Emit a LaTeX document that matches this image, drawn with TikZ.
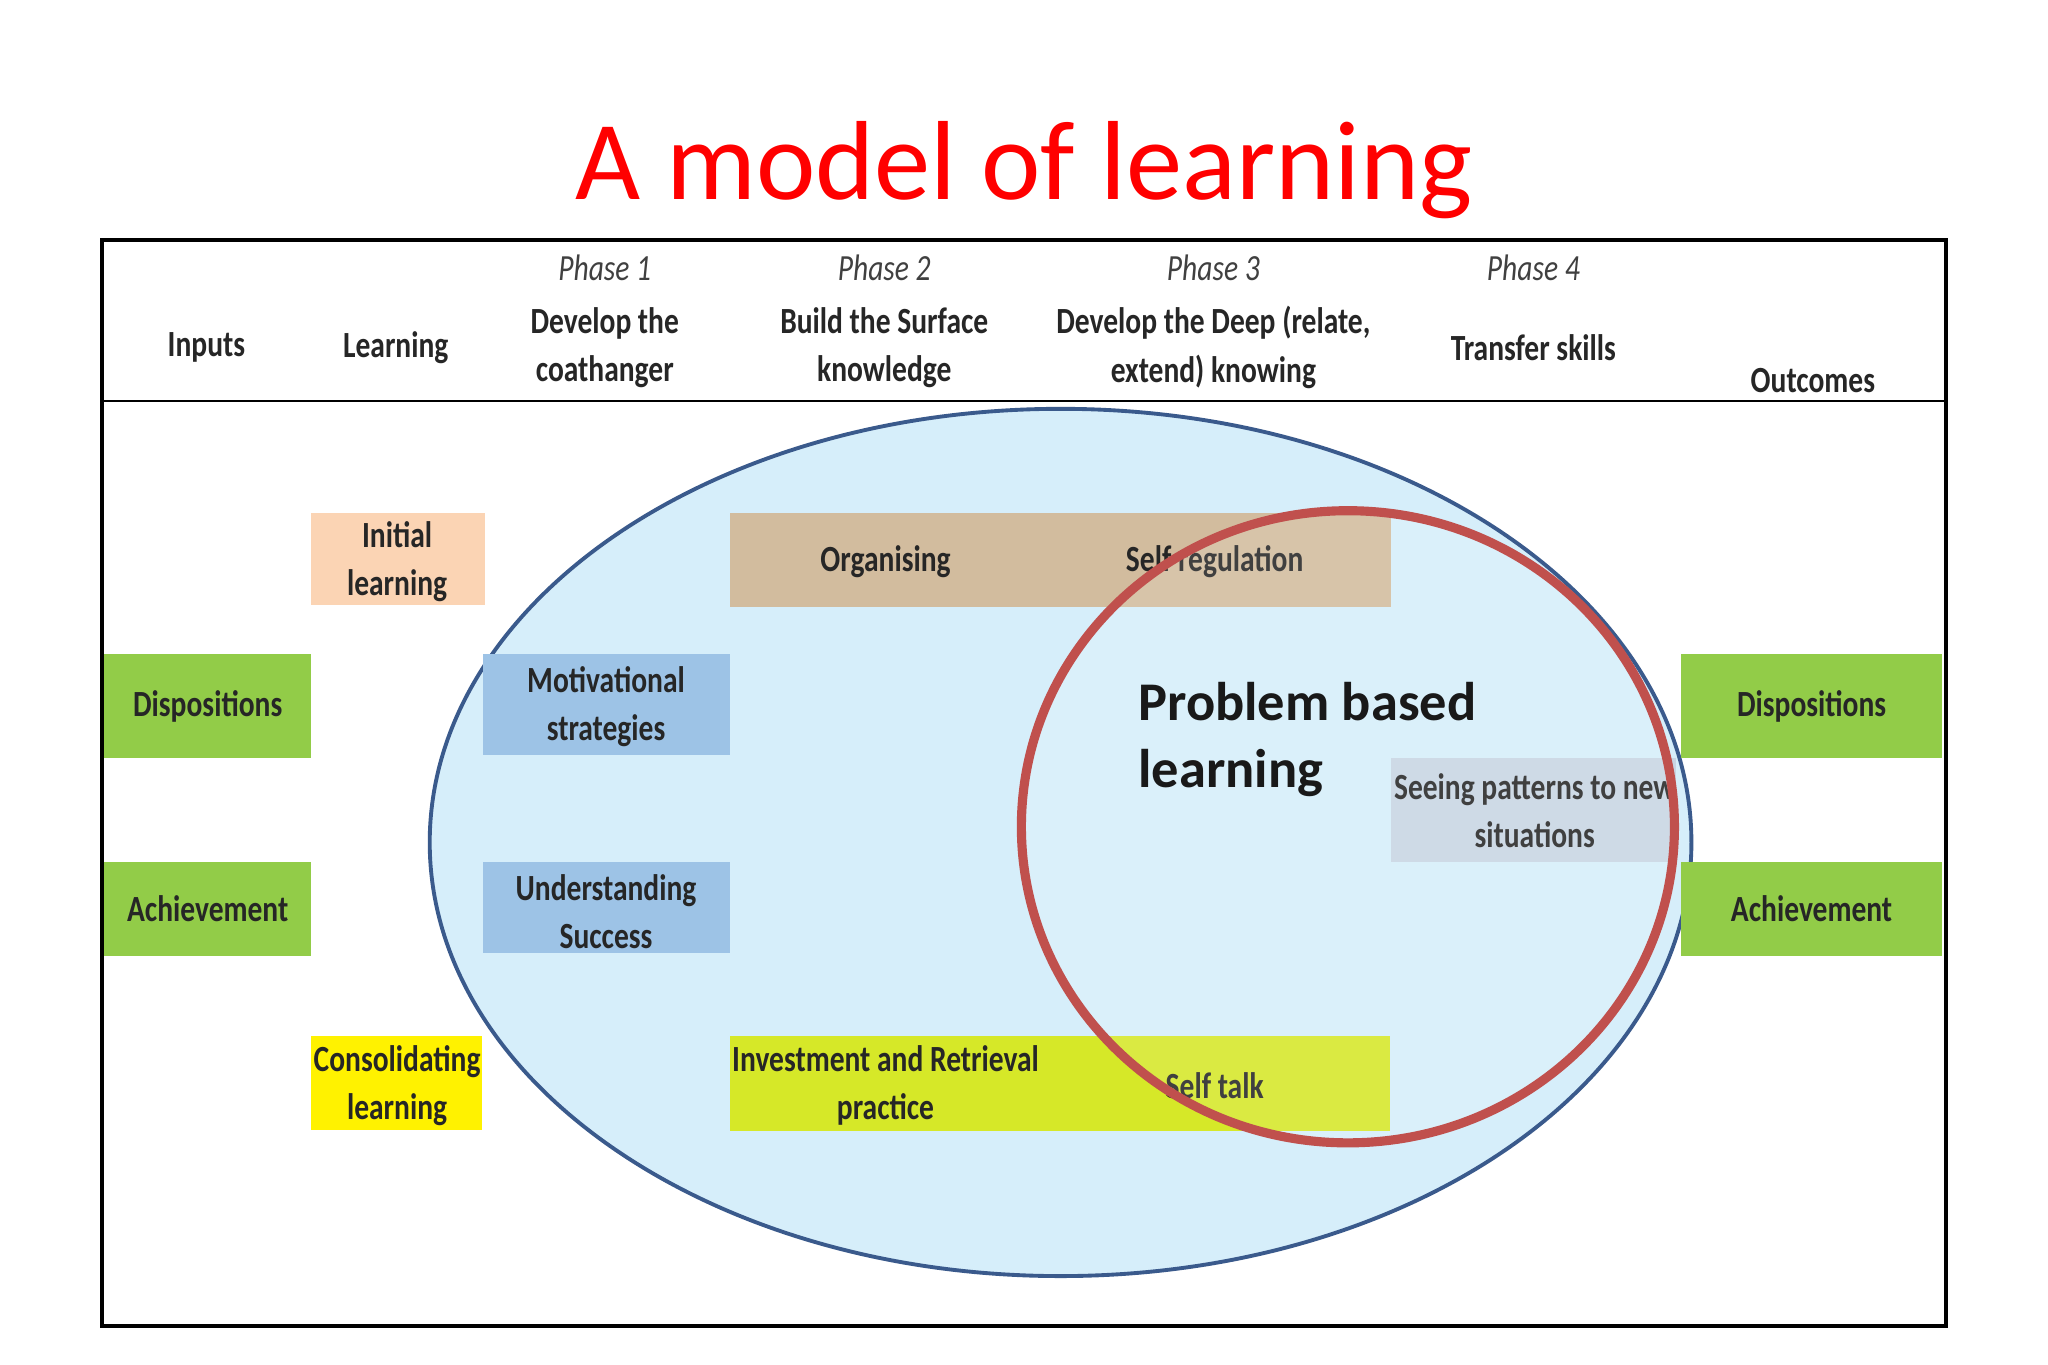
\documentclass[tikz,border=0pt]{standalone}
\usepackage{fontspec}
\setmainfont{Carlito}[FakeStretch=0.8]
\newfontfamily\titlefont{Carlito}
\newfontfamily\pblfont{Carlito}
\definecolor{ellfill}{RGB}{214,238,250}
\definecolor{elldraw}{RGB}{58,90,140}
\definecolor{peach}{RGB}{251,212,180}
\definecolor{gr}{RGB}{146,204,72}
\definecolor{bl}{RGB}{157,195,230}
\definecolor{tan}{RGB}{210,188,158}
\definecolor{yg}{RGB}{214,232,40}
\definecolor{gb}{RGB}{200,213,227}
\definecolor{rc}{RGB}{192,80,77}
\begin{document}
\begin{tikzpicture}[x=0.01306cm,y=-0.01306cm,
 txt/.style={font=\fontsize{10.5}{13.7}\selectfont\bfseries, align=center, text=black!85},
 ph/.style={font=\fontsize{10.5}{12}\selectfont\itshape, text=black!75}]
\useasboundingbox (0,0) rectangle (1568,1045);
\fill[white] (0,0) rectangle (1568,1045);
\node[text=red, font=\titlefont\fontsize{32}{36}\selectfont] (title) at (784,130) {A model of learning};
\draw[line width=1.2pt] (78,184) rectangle (1490,1015);
\draw[line width=0.8pt] (78,307) -- (1490,307);
% header
\node[txt] (hin) at (158,266) {Inputs};
\node[txt] (hle) at (303,266) {Learning};
\node[ph] (p1) at (463,205) {Phase 1};
\node[ph] (p2) at (677,205) {Phase 2};
\node[ph] (p3) at (929,205) {Phase 3};
\node[ph] (p4) at (1174,205) {Phase 4};
\node[txt] (h1) at (463,266) {Develop the\\coathanger};
\node[txt] (h2) at (677,266) {Build the Surface\\knowledge};
\node[txt] (h3) at (929,266) {Develop the Deep (relate,\\extend) knowing};
\node[txt] (h4) at (1174,266) {Transfer skills};
\node[txt] (hout) at (1388,291) {Outcomes};
% ellipse
\draw[fill=ellfill, draw=elldraw, line width=1.1pt] (812,645) ellipse [x radius=483, y radius=332];
% boxes
\fill[peach] (238,393) rectangle (371,463);
\node[txt] (init) at (304,430) {Initial\\learning};
\fill[gr] (80,501) rectangle (238,580);
\node[txt] (dl) at (159,541) {Dispositions};
\fill[gr] (80,660) rectangle (238,732);
\node[txt] (al) at (159,696) {Achievement};
\fill[yellow] (238,793) rectangle (369,865);
\node[txt] (cons) at (304,831) {Consolidating\\learning};
\fill[bl] (370,501) rectangle (559,578);
\node[txt] (mot) at (464,541) {Motivational\\strategies};
\fill[bl] (370,660) rectangle (559,730);
\node[txt] (und) at (464,698) {Understanding\\Success};
\fill[tan] (559,393) rectangle (1065,465);
\node[txt] (org) at (678,430) {Organising};
\node[txt] (sr) at (930,430) {Self regulation};
\fill[yg] (559,793) rectangle (1064,866);
\node[txt] (inv) at (678,831) {Investment and Retrieval\\practice};
\node[txt] (st) at (930,831) {Self talk};
\fill[gb] (1065,580) rectangle (1283,660);
\node[txt] (see) at (1175,621) {Seeing patterns to new\\situations};
\fill[gr] (1287,501) rectangle (1487,580);
\node[txt] (dr) at (1387,541) {Dispositions};
\fill[gr] (1287,660) rectangle (1487,732);
\node[txt] (ar) at (1387,696) {Achievement};
% red circle
\draw[draw=rc, line width=2.6pt, fill=white, fill opacity=0.12] (1032,633) ellipse [x radius=250, y radius=242];
\node[font=\pblfont\fontsize{15.5}{19}\selectfont\bfseries, align=left, anchor=north west, text=black!90, inner sep=0pt] (pbl) at (871,522) {Problem based\\learning};
\end{tikzpicture}
\end{document}
